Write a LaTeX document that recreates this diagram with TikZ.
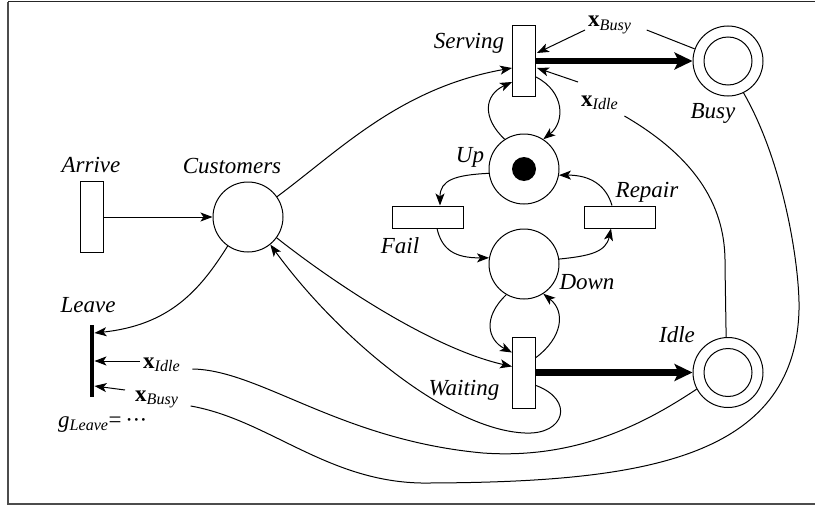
\documentclass[tikz,border=0pt]{standalone}
\usepackage{fontspec}
\usepackage{amsmath}
\setmainfont{Liberation Serif}
\usetikzlibrary{arrows.meta,calc}
\begin{document}
\begin{tikzpicture}[x=1pt,y=-1pt,
  place/.style={circle,draw,line width=1pt,minimum size=70pt,inner sep=0},
  trans/.style={rectangle,draw,line width=1pt,inner sep=0},
  vtrans/.style={trans,minimum width=23pt,minimum height=71pt},
  htrans/.style={trans,minimum width=71pt,minimum height=22pt},
  dbl/.style={path picture={\draw[line width=1pt] (path picture bounding box.center) circle[radius=24pt];}},
  token/.style={path picture={\fill (path picture bounding box.center) circle[radius=12pt];}},
  lbl/.style={font=\fontsize{23}{27}\selectfont\itshape,inner sep=0},
  mlbl/.style={font=\fontsize{23}{27}\selectfont,inner sep=0},
  conn/.style={line width=1pt,-{Stealth[length=12pt,width=9pt,inset=3pt]}},
  wire/.style={line width=1pt},
  bigconn/.style={line width=6.5pt,-{Stealth[length=18pt,width=17pt,inset=4pt]}},
]
\useasboundingbox (0,0) rectangle (815,506);
% frame
\draw[line width=1.5pt,black!85] (8,1.5) -- (815,1.5);
\draw[line width=2pt,black!70] (8,1.5) -- (8,503.5) -- (815,503.5);

% places and transitions
\node[vtrans] (Arrive) at (92,217) {};
\node[place] (Customers) at (248,217) {};
\node[vtrans] (Serving) at (524,61) {};
\node[vtrans] (Waiting) at (524,372.5) {};
\node[place,token] (Up) at (524,169) {};
\node[place] (Down) at (524,264) {};
\node[htrans] (Fail) at (428,217) {};
\node[htrans] (Repair) at (620,217) {};
\node[place,dbl] (Busy) at (728,61) {};
\node[place,dbl] (Idle) at (728,372.5) {};
\node[fill=black,minimum width=4.5pt,minimum height=72pt,inner sep=0] (Leave) at (92,361) {};

% labels
\node[lbl,anchor=base] (lServing) at (469,48) {Serving};
\node[lbl,anchor=base] (lBusy) at (713,118) {Busy};
\node[lbl,anchor=base] (lUp) at (470,162) {Up};
\node[lbl,anchor=base] (lFail) at (400,253) {Fail};
\node[lbl,anchor=base] (lRepair) at (647,197) {Repair};
\node[lbl,anchor=base] (lDown) at (587,289) {Down};
\node[lbl,anchor=base] (lIdle) at (677,342) {Idle};
\node[lbl,anchor=base] (lWaiting) at (464,395) {Waiting};
\node[lbl,anchor=base] (lCustomers) at (232,173) {Customers};
\node[lbl,anchor=base] (lArrive) at (91,172) {Arrive};
\node[lbl,anchor=base] (lLeave) at (88,312) {Leave};
\node[mlbl,anchor=base west] (gLeave) at (58,427) {\textit{g}$_{\textit{Leave}}$=\,·\kern-0.6pt·\kern-0.6pt·};
\node[mlbl,anchor=base west] (xBusyS) at (588,27) {$\textbf{x}_{\textit{Busy}}$};
\node[mlbl,anchor=base west] (xIdleS) at (581,106) {$\textbf{x}_{\textit{Idle}}$};
\node[mlbl,anchor=base west] (xIdleL) at (143,368) {$\textbf{x}_{\textit{Idle}}$};
\node[mlbl,anchor=base west] (xBusyL) at (135,401) {$\textbf{x}_{\textit{Busy}}$};

% arcs
\draw[conn] (Arrive) -- (Customers);
\draw[conn] (Customers.35) .. controls (340,150) and (400,88) .. ($(Serving.west)+(0,7)$);
\draw[conn] (Up.123) .. controls (482,118) and (484,95) .. ($(Serving.west)+(0,21)$);
\draw[conn] ($(Serving.east)+(0,16)$) .. controls (565,92) and (565,122) .. (Up.57);
\draw[conn] (Up.187) .. controls (455,175) and (440,180) .. ($(Fail.north)+(12,0)$);
\draw[conn] ($(Fail.south)+(9,0)$) .. controls (442,250) and (455,258) .. (Down.170);
\draw[conn] (Down.8) .. controls (590,256) and (606,252) .. ($(Repair.south)+(-9,0)$);
\draw[conn] ($(Repair.north)+(-8,0)$) .. controls (606,185) and (590,175) .. (Up.350);
\draw[conn] (Down.240) .. controls (482,318) and (488,340) .. ($(Waiting.west)+(0,-20)$);
\draw[conn] ($(Waiting.east)+(0,-15)$) .. controls (562,338) and (566,312) .. (Down.303);
\draw[conn] (Customers.324) .. controls (330,280) and (430,348) .. ($(Waiting.west)+(0,-6)$);
\draw[conn] ($(Waiting.east)+(0,13)$) .. controls (575,400) and (565,435) .. (525,433)
  .. controls (450,430) and (340,340) .. (Customers.309);
\draw[conn] (Customers.235) .. controls (200,290) and (170,325) .. ($(Leave.east)+(0,-28)$);
\draw[conn] ($(xIdleL.base west)+(-3,-7)$) -- (Leave.east);
\draw[conn] ($(xBusyL.base west)+(-10,-11)$) -- ($(Leave.east)+(0,25)$);
\draw[conn] ($(xBusyS.base west)+(-3,3)$) -- ($(Serving.east)+(1,-8)$);
\draw[conn] ($(xIdleS.base west)+(-3,-24)$) -- ($(Serving.east)+(1,7)$);
\draw[bigconn] (Serving.east) -- (Busy.west);
\draw[bigconn] (Waiting.east) -- (Idle.west);

% test lines
\draw[wire] ($(xBusyS.base east)+(15,3)$) -- (Busy.160);
\draw[wire] ($(xIdleS.base east)+(6,10)$) .. controls (700,160) and (726,210) .. (725,265) -- (Idle.93);
\draw[wire] ($(xIdleL.base east)+(12,1)$) .. controls (260,370) and (340,440) .. (483,453)
  .. controls (580,460) and (650,420) .. (Idle.208);
\draw[wire] ($(xBusyL.base east)+(12,5)$) .. controls (270,420) and (330,485) .. (430,483)
  .. controls (640,482) and (795,460) .. (799,310)
  .. controls (800,270) and (785,165) .. (Busy.296);
\end{tikzpicture}
\end{document}
